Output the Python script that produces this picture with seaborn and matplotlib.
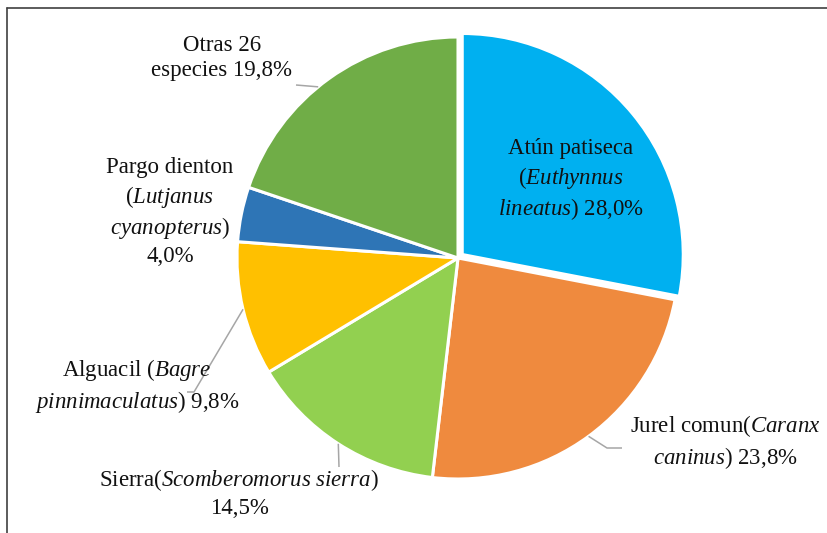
import numpy as np
import matplotlib
matplotlib.use("Agg")
import matplotlib.pyplot as plt
import seaborn as sns
from matplotlib.lines import Line2D

# data (percent of catch)
species = ["Atún patiseca", "Jurel comun", "Sierra", "Alguacil", "Pargo dienton", "Otras 26 especies"]
shares = [28.0, 23.8, 14.5, 9.8, 4.0, 19.8]
labels = [
    "Atún patiseca\n$\\mathit{(Euthynnus}$\n$\\mathit{lineatus)}$ 28,0%",
    "Jurel comun($\\mathit{Caranx}$\n$\\mathit{caninus}$) 23,8%",
    "Sierra($\\mathit{Scomberomorus\\ sierra}$)\n14,5%",
    "Alguacil ($\\mathit{Bagre}$\n$\\mathit{pinnimaculatus}$) 9,8%",
    "Pargo dienton\n($\\mathit{Lutjanus}$\n$\\mathit{cyanopterus}$)\n4,0%",
    "Otras 26\nespecies 19,8%",
]
colors = ["#00B0F0", "#EF8A3E", "#92D050", "#FFC000", "#2E75B6", "#70AD47"]

sns.set_theme(style="white")
plt.rcParams["font.family"] = ["Liberation Serif", "DejaVu Serif"]
plt.rcParams["mathtext.fontset"] = "custom"
plt.rcParams["mathtext.rm"] = "Liberation Serif"
plt.rcParams["mathtext.it"] = "Liberation Serif:italic"

W, H = 828, 533
fig = plt.figure(figsize=(W / 100, H / 100), dpi=100)
ax = fig.add_axes([0, 0, 1, 1])

cx, cy, r = 458, H - 258, 221
wedges, _ = ax.pie(shares, colors=sns.color_palette(colors), startangle=90,
                   counterclock=False, radius=r, center=(cx, cy),
                   explode=[5.5, 0, 0, 0, 0, 0],
                   wedgeprops=dict(edgecolor="white", linewidth=2.2))
ax.set_xlim(0, W)
ax.set_ylim(0, H)
ax.set_axis_off()

# label placement (pixel coords, y from top)
label_pos = [(571, 180), (725, 442), (239, 493), (137, 386), (170, 212), (222, 58)]
for text, (x, y) in zip(labels, label_pos):
    ax.text(x, H - y, text, ha="center", va="center", multialignment="center",
            fontsize=16.5, color="#111111", linespacing=1.3)

# leader lines: anchor on wedge edge (fraction along the wedge angle), then elbows
leaders = {1: (0.5, [(607, 448), (622, 448)]), 2: (0.5, [(339, 467)]),
           3: (0.5, [(194, 392), (187, 392)]), 5: (0.55, [(296, 85)])}
for i, (frac, pts) in leaders.items():
    w = wedges[i]
    th = np.deg2rad(w.theta1 + frac * (w.theta2 - w.theta1))
    x0 = w.center[0] + r * np.cos(th)
    y0 = w.center[1] + r * np.sin(th)
    xs = [x0] + [p[0] for p in pts]
    ys = [y0] + [H - p[1] for p in pts]
    ax.plot(xs, ys, color="#A6A6A6", lw=1.1, solid_capstyle="butt")

# chart border (top and left visible)
fig.add_artist(Line2D([7 / W, 1], [1 - 8 / H, 1 - 8 / H], color="#404040", lw=1.2))
fig.add_artist(Line2D([7 / W, 7 / W], [0, 1 - 8 / H], color="#404040", lw=1.2))

fig.savefig("out.png", dpi=100)
